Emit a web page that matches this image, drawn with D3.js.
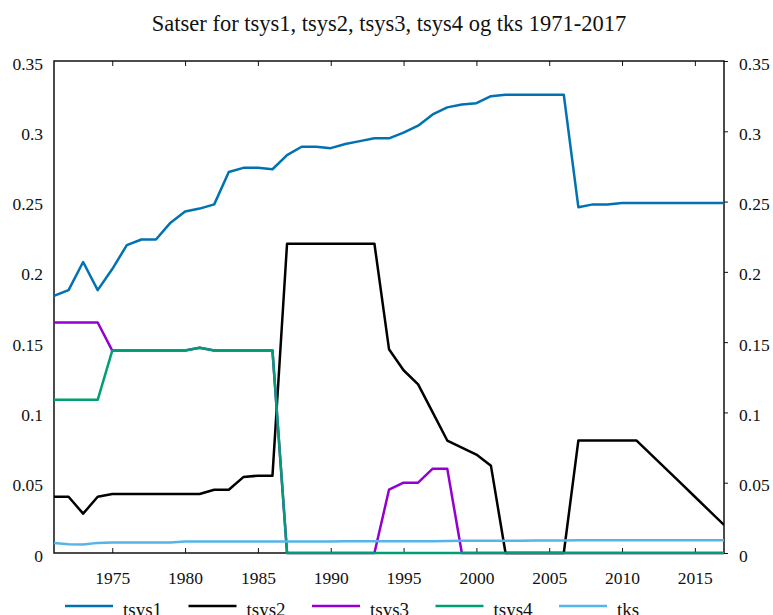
<!DOCTYPE html>
<meta charset="utf-8">
<title>Satser for tsys1, tsys2, tsys3, tsys4 og tks 1971-2017</title>
<script src="https://d3js.org/d3.v7.min.js"></script>
<style>
	body { margin: 0; background: #fff; }
	.line { fill: none; stroke-width: 2.5; stroke-linejoin: round; }
</style>
<div id="chart"></div>
<script>

var years = d3.range(1971, 2018);

var tsys1 = [0.183, 0.187, 0.207, 0.187, 0.202, 0.219, 0.223, 0.223, 0.235, 0.243,
	0.245, 0.248, 0.271, 0.274, 0.274, 0.273, 0.283, 0.289, 0.289, 0.288,
	0.291, 0.293, 0.295, 0.295, 0.299, 0.304, 0.312, 0.317, 0.319, 0.320,
	0.325, 0.326, 0.326, 0.326, 0.326, 0.326, 0.246, 0.248, 0.248, 0.249,
	0.249, 0.249, 0.249, 0.249, 0.249, 0.249, 0.249];

var tsys2 = [0.040, 0.040, 0.028, 0.040, 0.042, 0.042, 0.042, 0.042, 0.042, 0.042,
	0.042, 0.045, 0.045, 0.054, 0.055, 0.055, 0.220, 0.220, 0.220, 0.220,
	0.220, 0.220, 0.220, 0.145, 0.130, 0.120, 0.100, 0.080, 0.075, 0.070,
	0.062, 0, 0, 0, 0, 0, 0.080, 0.080, 0.080, 0.080,
	0.080, 0.070, 0.060, 0.050, 0.040, 0.030, 0.020];

var tsys3 = [0.164, 0.164, 0.164, 0.164, 0.144, 0.144, 0.144, 0.144, 0.144, 0.144,
	0.146, 0.144, 0.144, 0.144, 0.144, 0.144, 0, 0, 0, 0,
	0, 0, 0, 0.045, 0.050, 0.050, 0.060, 0.060, 0, 0,
	0, 0, 0, 0, 0, 0, 0, 0, 0, 0,
	0, 0, 0, 0, 0, 0, 0];

var tsys4 = [0.109, 0.109, 0.109, 0.109, 0.144, 0.144, 0.144, 0.144, 0.144, 0.144,
	0.146, 0.144, 0.144, 0.144, 0.144, 0.144, 0, 0, 0, 0,
	0, 0, 0, 0, 0, 0, 0, 0, 0, 0,
	0, 0, 0, 0, 0, 0, 0, 0, 0, 0,
	0, 0, 0, 0, 0, 0, 0];

var tks = [0.0071, 0.0062, 0.0060, 0.0072, 0.0075, 0.0075, 0.0075, 0.0075, 0.0075, 0.0082,
	0.0082, 0.0082, 0.0082, 0.0082, 0.0082, 0.0082, 0.0082, 0.0082, 0.0082, 0.0082,
	0.0084, 0.0084, 0.0084, 0.0084, 0.0084, 0.0084, 0.0084, 0.0085, 0.0087, 0.0088,
	0.0088, 0.0088, 0.0088, 0.0089, 0.0089, 0.0089, 0.0090, 0.0090, 0.0090, 0.0090,
	0.0090, 0.0090, 0.0090, 0.0090, 0.0090, 0.0090, 0.0090];

var xTicks = [1975, 1980, 1985, 1990, 1995, 2000, 2005, 2010, 2015];
var yTicks = [0, 0.05, 0.1, 0.15, 0.2, 0.25, 0.3, 0.35];

var series = [
	{name: "tsys1", color: "#0072b2", values: tsys1},
	{name: "tsys2", color: "#000000", values: tsys2},
	{name: "tsys3", color: "#9400d3", values: tsys3},
	{name: "tsys4", color: "#009e73", values: tsys4},
	{name: "tks", color: "#56b4e9", values: tks}
];

var width = 773, height = 615;
var margin = {top: 61, right: 49, bottom: 62, left: 54};

var svg = d3.select("#chart").append("svg")
	.attr("width", width)
	.attr("height", height);

var x = d3.scaleLinear()
	.domain([1971, 2017])
	.range([margin.left, width - margin.right]);

var y = d3.scaleLinear()
	.domain([0, 0.35])
	.range([height - margin.bottom, margin.top]);

var fmt = function(d) { return d === 0 ? "0" : String(d); };

// titel
svg.append("text")
	.attr("x", 389)
	.attr("y", 31)
	.attr("text-anchor", "middle")
	.attr("font-family", "Liberation Serif")
	.attr("font-size", 22.5)
	.attr("fill", "#111")
	.text("Satser for tsys1, tsys2, tsys3, tsys4 og tks 1971-2017");

// akser
svg.append("g")
	.attr("transform", "translate(0," + (height - margin.bottom) + ")")
	.call(d3.axisBottom(x).tickValues(xTicks).tickFormat(d3.format("d")).tickSize(-5).tickPadding(18.5));

svg.append("g")
	.attr("transform", "translate(0," + margin.top + ")")
	.call(d3.axisTop(x).tickValues(xTicks).tickSize(-5).tickFormat(""));

svg.append("g")
	.attr("class", "yaxis")
	.attr("transform", "translate(" + margin.left + ",0)")
	.call(d3.axisLeft(y).tickValues(yTicks).tickFormat(fmt).tickSize(0).tickPadding(11));

svg.append("g")
	.attr("class", "yaxis")
	.attr("transform", "translate(" + (width - margin.right) + ",0)")
	.call(d3.axisRight(y).tickValues(yTicks).tickFormat(fmt).tickSize(4).tickPadding(11));

svg.selectAll(".domain").remove();
svg.selectAll(".tick line").attr("stroke", "#111").attr("stroke-width", 1);
svg.selectAll(".tick text")
	.attr("font-family", "Liberation Serif")
	.attr("font-size", 17.5)
	.attr("fill", "#111");
svg.selectAll(".yaxis .tick text").attr("y", 2.5);

// ramme
svg.append("rect")
	.attr("x", margin.left)
	.attr("y", margin.top)
	.attr("width", width - margin.left - margin.right)
	.attr("height", height - margin.top - margin.bottom)
	.attr("fill", "none")
	.attr("stroke", "#111")
	.attr("stroke-width", 1.5);

// linjer
var line = d3.line()
	.x(function(d, i) { return x(years[i]); })
	.y(function(d) { return y(d); });

svg.append("defs").append("clipPath").attr("id", "clip")
	.append("rect")
	.attr("x", margin.left)
	.attr("y", margin.top - 3)
	.attr("width", width - margin.left - margin.right)
	.attr("height", height - margin.top - margin.bottom + 6);

svg.append("g").attr("clip-path", "url(#clip)")
	.selectAll("path")
	.data(series)
	.enter().append("path")
	.attr("class", "line")
	.attr("stroke", function(d) { return d.color; })
	.attr("d", function(d) { return line(d.values); });

// tegnforklaring
var legend = svg.append("g")
	.selectAll("g")
	.data(series)
	.enter().append("g")
	.attr("transform", function(d, i) { return "translate(" + (65 + i * 123.5) + ",606)"; });

legend.append("line")
	.attr("x1", 0).attr("x2", 48)
	.attr("y1", 0).attr("y2", 0)
	.attr("stroke", function(d) { return d.color; })
	.attr("stroke-width", 2.5);

legend.append("text")
	.attr("x", 58)
	.attr("y", 9.5)
	.attr("font-family", "Liberation Serif")
	.attr("font-size", 19)
	.attr("fill", "#111")
	.text(function(d) { return d.name; });

</script>
